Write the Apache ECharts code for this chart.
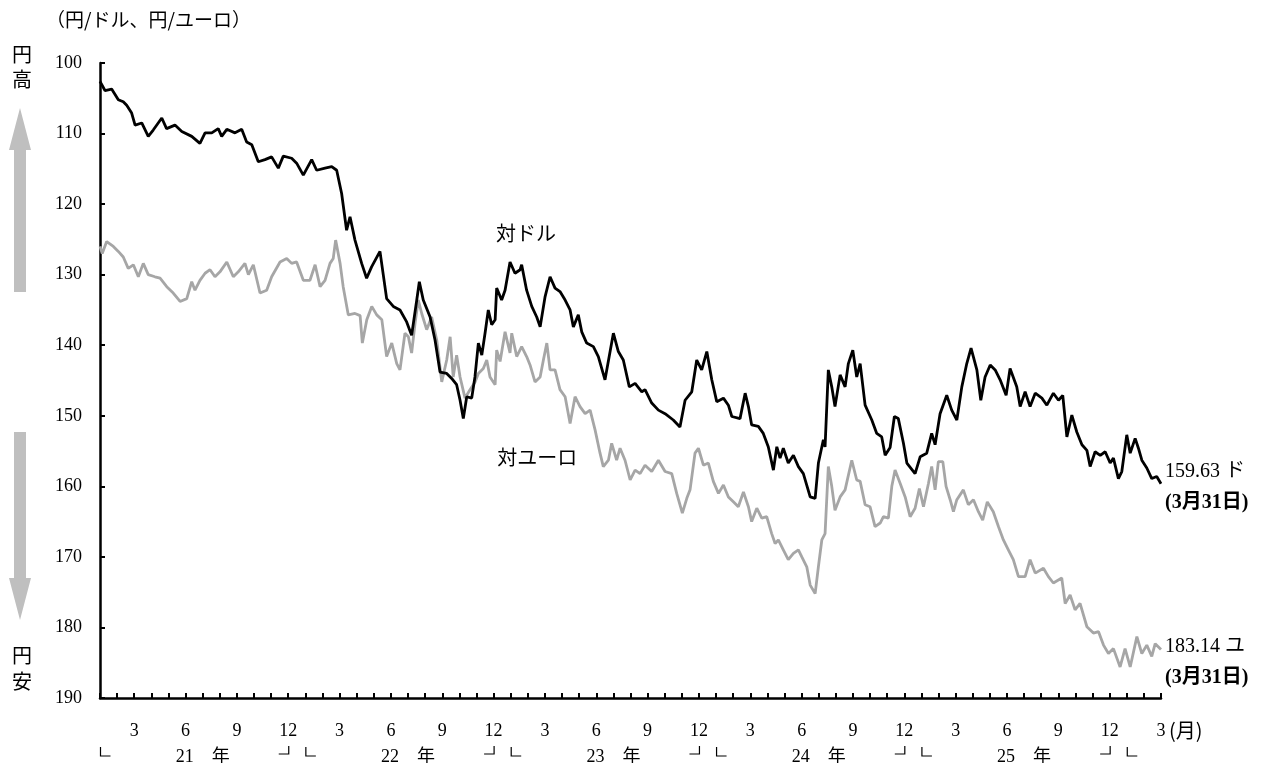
<!DOCTYPE html>
<html><head><meta charset="utf-8">
<script src="https://cdn.jsdelivr.net/npm/echarts@6/dist/echarts.min.js"></script>
<style>html,body{margin:0;padding:0;background:#fff}#c{width:1270px;height:763px}</style>
</head><body><div id="c"></div>
<script>
// x = months since start of Jan 2021 (0 = Jan 2021, 62 = Mar 2026); y = yen per unit
const usdPoints = [[0,102.6],[0.29,103.9],[0.68,103.7],[1.07,105.2],[1.36,105.5],[1.56,106.0],[1.85,107.1],[2.05,108.8],[2.44,108.5],[2.82,110.4],[3.11,109.5],[3.61,107.8],[3.89,109.3],[4.38,108.8],[4.78,109.7],[5.36,110.4],[5.84,111.4],[6.14,109.9],[6.53,109.9],[6.91,109.3],[7.11,110.4],[7.41,109.4],[7.89,109.9],[8.28,109.4],[8.57,111.2],[8.87,111.6],[9.25,114.0],[9.64,113.7],[10.03,113.3],[10.42,114.9],[10.71,113.2],[11.2,113.5],[11.49,114.2],[11.88,115.9],[12.37,113.7],[12.66,115.2],[13.15,114.9],[13.54,114.7],[13.83,115.2],[14.12,118.5],[14.41,123.7],[14.61,121.8],[14.9,125.1],[15.29,128.4],[15.58,130.5],[15.87,128.9],[16.36,126.7],[16.75,133.4],[17.14,134.5],[17.53,135.0],[17.92,136.7],[18.21,138.6],[18.51,133.6],[18.66,131.0],[18.89,133.6],[19.29,136.0],[19.58,139.3],[19.87,143.8],[20.26,144.0],[20.55,144.7],[20.84,145.6],[21.04,147.8],[21.23,150.4],[21.43,147.3],[21.72,147.5],[21.91,144.5],[22.11,139.7],[22.31,141.4],[22.5,138.3],[22.69,135.0],[22.89,137.1],[23.09,136.4],[23.18,131.9],[23.47,133.6],[23.67,132.2],[23.96,128.2],[24.25,129.8],[24.55,129.3],[24.64,128.6],[24.93,132.2],[25.23,134.5],[25.52,136.0],[25.72,137.4],[26.01,133.1],[26.3,130.3],[26.59,131.9],[26.88,132.4],[27.18,133.6],[27.47,135.0],[27.66,137.4],[27.95,135.7],[28.15,138.1],[28.44,139.7],[28.83,140.2],[29.12,141.6],[29.51,144.9],[30,138.3],[30.29,140.9],[30.58,142.1],[30.93,145.9],[31.27,145.4],[31.66,146.6],[31.85,146.3],[32.24,148.2],[32.63,149.2],[33.02,149.7],[33.5,150.6],[33.89,151.6],[34.19,147.8],[34.58,146.6],[34.87,142.1],[35.16,143.5],[35.46,140.9],[35.75,144.9],[36.04,148.0],[36.43,147.5],[36.72,148.5],[36.92,150.1],[37.4,150.4],[37.7,146.8],[37.89,148.7],[38.08,151.3],[38.47,151.5],[38.76,152.5],[39.05,154.4],[39.35,157.7],[39.55,154.4],[39.74,156.0],[39.93,154.6],[40.22,156.7],[40.52,155.6],[40.81,157.2],[41.1,158.2],[41.5,161.5],[41.79,161.7],[41.98,156.7],[42.27,153.4],[42.37,154.4],[42.56,143.5],[42.76,145.9],[42.95,148.7],[43.25,144.2],[43.54,145.9],[43.73,142.6],[43.99,140.7],[44.22,144.5],[44.42,142.6],[44.71,148.5],[45.1,150.6],[45.39,152.5],[45.68,153.0],[45.88,155.6],[46.17,154.5],[46.42,150.1],[46.65,150.4],[46.95,153.9],[47.15,156.7],[47.63,158.2],[47.93,155.8],[48.31,155.3],[48.6,152.5],[48.8,154.1],[49.09,149.7],[49.48,147.1],[49.77,149.2],[50.07,150.6],[50.36,145.9],[50.65,142.6],[50.9,140.4],[51.24,143.5],[51.47,147.8],[51.72,144.5],[52.02,142.8],[52.31,143.5],[52.6,144.9],[52.95,147.1],[53.18,143.3],[53.57,145.9],[53.77,148.7],[54.06,146.6],[54.35,148.7],[54.65,146.8],[55.04,147.5],[55.33,148.5],[55.71,146.8],[56.01,147.8],[56.26,147.1],[56.5,153.0],[56.79,149.9],[57.08,152.3],[57.38,154.1],[57.67,154.9],[57.86,157.2],[58.15,155.1],[58.45,155.6],[58.74,155.1],[59.03,156.7],[59.22,156.0],[59.51,158.9],[59.71,157.9],[60,152.7],[60.2,155.3],[60.49,153.2],[60.68,154.6],[60.88,156.3],[61.17,157.4],[61.46,158.9],[61.75,158.6],[62,159.63]];
const eurPoints = [[0,126.0],[0.13,127.0],[0.39,125.3],[0.78,126.0],[1.07,126.7],[1.36,127.5],[1.65,129.1],[1.95,128.6],[2.24,130.3],[2.53,128.4],[2.82,130.0],[3.21,130.3],[3.51,130.5],[3.9,131.7],[4.28,132.6],[4.68,133.8],[5.07,133.4],[5.36,131.0],[5.55,132.2],[5.84,130.8],[6.14,129.8],[6.43,129.3],[6.72,130.3],[7.01,129.6],[7.41,128.2],[7.79,130.3],[8.08,129.6],[8.47,128.4],[8.67,130.0],[8.96,128.6],[9.35,132.6],[9.74,132.2],[10.03,130.3],[10.52,128.2],[10.91,127.7],[11.2,128.4],[11.49,128.2],[11.88,130.8],[12.27,130.8],[12.57,128.6],[12.86,131.7],[13.15,130.8],[13.44,128.4],[13.63,127.7],[13.77,125.1],[14.03,128.4],[14.21,131.7],[14.51,135.7],[14.9,135.5],[15.2,135.8],[15.33,139.7],[15.59,136.4],[15.88,134.5],[16.17,135.7],[16.47,136.4],[16.75,141.6],[17.05,139.7],[17.34,142.6],[17.53,143.5],[17.82,138.3],[18.02,138.8],[18.21,141.1],[18.41,136.9],[18.6,133.6],[18.8,135.5],[19.09,137.8],[19.38,136.0],[19.68,139.3],[19.97,145.2],[20.26,142.1],[20.46,138.8],[20.64,144.5],[20.84,141.4],[21.04,144.5],[21.33,147.5],[21.62,146.3],[21.92,145.2],[22.11,144.0],[22.4,143.3],[22.6,142.1],[22.79,144.5],[23.09,145.6],[23.18,140.7],[23.38,142.3],[23.67,138.1],[23.96,141.1],[24.06,138.3],[24.35,141.6],[24.64,140.2],[24.93,141.6],[25.13,142.8],[25.42,145.2],[25.72,144.5],[25.91,142.1],[26.11,139.7],[26.3,143.5],[26.59,143.5],[26.88,146.3],[27.18,147.3],[27.47,151.1],[27.76,147.3],[28.05,148.7],[28.35,149.7],[28.64,149.2],[28.93,152.0],[29.22,155.3],[29.41,157.2],[29.71,156.3],[29.9,153.9],[30.19,156.3],[30.39,154.6],[30.68,156.3],[30.98,159.1],[31.27,157.7],[31.56,158.2],[31.85,157.0],[32.24,157.9],[32.63,156.3],[33.02,157.9],[33.41,158.2],[33.7,161.0],[34.03,163.8],[34.29,161.7],[34.48,160.5],[34.77,155.3],[34.97,154.6],[35.26,157.0],[35.55,156.7],[35.84,159.3],[36.14,161.0],[36.43,159.8],[36.72,161.5],[37.01,162.2],[37.3,162.9],[37.6,160.8],[37.89,162.9],[38.08,165.0],[38.38,163.1],[38.67,164.5],[38.96,164.3],[39.25,166.7],[39.45,168.1],[39.64,167.6],[39.93,169.0],[40.22,170.4],[40.52,169.5],[40.81,169.0],[41.01,170.0],[41.3,171.4],[41.5,174.0],[41.79,175.2],[41.98,171.4],[42.18,167.6],[42.37,166.7],[42.56,157.2],[42.76,160.0],[42.95,163.4],[43.25,161.5],[43.54,160.5],[43.93,156.3],[44.22,159.1],[44.42,159.3],[44.71,162.6],[45.0,162.9],[45.29,165.7],[45.59,165.2],[45.78,164.3],[46.07,164.5],[46.27,160.0],[46.46,157.7],[46.76,159.6],[47.05,161.5],[47.34,164.3],[47.63,163.1],[47.88,160.3],[48.12,162.9],[48.41,159.6],[48.6,157.2],[48.8,160.5],[48.99,156.5],[49.25,156.5],[49.44,160.0],[49.68,161.9],[49.87,163.6],[50.07,161.9],[50.45,160.5],[50.74,162.6],[51.04,161.9],[51.33,163.6],[51.58,164.8],[51.85,162.2],[52.2,163.6],[52.5,165.7],[52.79,167.6],[53.08,169.0],[53.37,170.4],[53.67,172.8],[54.06,172.8],[54.35,170.4],[54.65,172.3],[55.13,171.6],[55.42,172.8],[55.71,173.7],[56.2,173.0],[56.4,176.6],[56.69,175.4],[56.98,177.5],[57.27,176.6],[57.67,179.9],[58.05,180.8],[58.35,180.6],[58.64,182.5],[58.93,183.7],[59.22,183.0],[59.61,185.6],[59.9,183.0],[60.2,185.6],[60.59,181.3],[60.88,183.7],[61.17,182.5],[61.46,184.1],[61.66,182.3],[62,183.14]];
const yearLabels = ['21　年','22　年','23　年','24　年','25　年'];
const yearMid = [6, 18, 30, 42, 54];
const yearStarts = [0, 12, 24, 36, 48, 60];
const yearEnds = [11, 23, 35, 47, 59];
const endDate = '(3月31日)';

const serif = "'Liberation Serif','Noto Sans CJK JP',serif";
const jp = "'Noto Sans CJK JP',sans-serif";
const chart = echarts.init(document.getElementById('c'));
chart.setOption({
  animation: false,
  grid: {left: 100, right: 109, top: 63, bottom: 65},
  xAxis: {
    type: 'value', min: 0, max: 62, interval: 1,
    axisLine: {onZero: false, lineStyle: {color: '#000', width: 2.5}},
    axisTick: {inside: true, length: 5, lineStyle: {color: '#000', width: 2}},
    splitLine: {show: false},
    axisLabel: {margin: 24, fontFamily: serif, fontSize: 18, color: '#000',
      formatter: v => { const m = (Math.round(v) % 12) + 1; return m % 3 === 0 ? String(m) : ''; }}
  },
  yAxis: {
    type: 'value', inverse: true, min: 100, max: 190, interval: 10,
    axisLine: {show: true, onZero: false, lineStyle: {color: '#000', width: 2.5}},
    axisTick: {show: true, inside: true, length: 5, lineStyle: {color: '#000', width: 2}},
    splitLine: {show: false},
    axisLabel: {margin: 18, fontFamily: serif, fontSize: 18, color: '#000'}
  },
  series: [
    {name: '対ユーロ', type: 'line', data: eurPoints, showSymbol: false, symbol: 'none',
     lineStyle: {color: '#a6a6a6', width: 2.8}, z: 2,
     endLabel: {show: true, distance: 4, offset: [0, 13], align: 'left',
       formatter: p => '{a|' + p.value[1].toFixed(2) + ' ユ}\n{b|' + endDate + '}',
       rich: {a: {fontFamily: serif, fontSize: 20, color: '#000', lineHeight: 31},
              b: {fontFamily: serif, fontSize: 20, fontWeight: 'bold', color: '#000', lineHeight: 31}}}},
    {name: '対ドル', type: 'line', data: usdPoints, showSymbol: false, symbol: 'none',
     lineStyle: {color: '#000', width: 2.8}, z: 3,
     endLabel: {show: true, distance: 4, offset: [0, 4], align: 'left',
       formatter: p => '{a|' + p.value[1].toFixed(2) + ' ド}\n{b|' + endDate + '}',
       rich: {a: {fontFamily: serif, fontSize: 20, color: '#000', lineHeight: 31},
              b: {fontFamily: serif, fontSize: 20, fontWeight: 'bold', color: '#000', lineHeight: 31}}}}
  ]
});

const px = (k, v) => chart.convertToPixel({gridIndex: 0}, [k, v]);
const g = [];
const txt = (x, y, s, font, align) => g.push({type: 'text', x, y, style: {text: s, font, fill: '#000', textAlign: align || 'center', textVerticalAlign: 'middle'}});
// title
txt(46, 20, '（円/ドル、円/ユーロ）', '19px ' + jp, 'left');
// side captions
txt(22, 54, '円', '20px ' + jp); txt(22, 79, '高', '20px ' + jp);
txt(22, 655, '円', '20px ' + jp); txt(22, 681, '安', '20px ' + jp);
// arrows
g.push({type: 'polygon', shape: {points: [[20,108],[9,150],[14,150],[14,292],[26,292],[26,150],[31,150]]}, style: {fill: '#bfbfbf'}});
g.push({type: 'polygon', shape: {points: [[14,432],[26,432],[26,578],[31,578],[20,620],[9,578],[14,578]]}, style: {fill: '#bfbfbf'}});
// series annotations (data-space anchors)
const pU = px(24.9, 124.1); txt(pU[0], pU[1], '対ドル', '20px ' + jp);
const pE = px(25.55, 155.85); txt(pE[0], pE[1], '対ユーロ', '20px ' + jp);
// month unit
const pEnd = px(62, 190); txt(pEnd[0] + 8, pEnd[1] + 32, '(月)', '20px ' + jp, 'left');
// year labels
yearLabels.forEach((s, i) => { const p = px(yearMid[i], 190); txt(p[0], p[1] + 59, s, '18px ' + serif); });
// year brackets
const base = px(0, 190)[1];
yearStarts.forEach(k => { const x = px(k, 190)[0] + 0.5; g.push({type: 'polyline', shape: {points: [[x, base + 49],[x, base + 58],[x + 10, base + 58]]}, style: {stroke: '#000', lineWidth: 1.2, fill: null}}); });
yearEnds.forEach(k => { const x = px(k, 190)[0] + 0.5; g.push({type: 'polyline', shape: {points: [[x - 10, base + 56],[x, base + 56],[x, base + 48]]}, style: {stroke: '#000', lineWidth: 1.2, fill: null}}); });
chart.setOption({graphic: g});
</script>
</body></html>
